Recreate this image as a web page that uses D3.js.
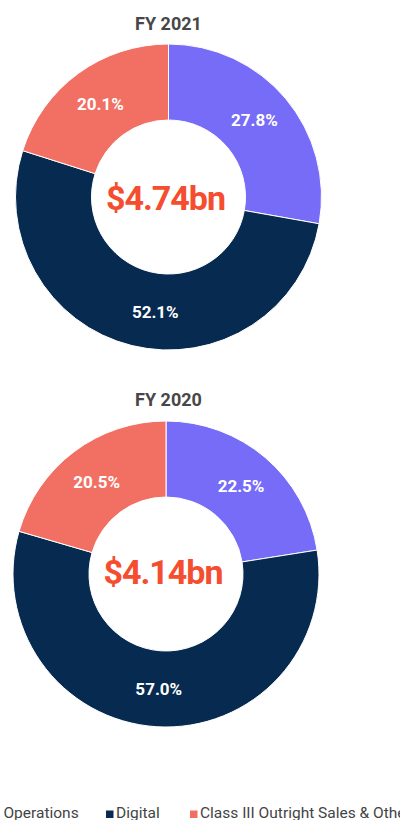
<!DOCTYPE html>
<html>
<head>
<meta charset="utf-8">
<script src="https://cdn.jsdelivr.net/npm/d3@7/dist/d3.min.js"></script>
<style>
html,body{margin:0;padding:0;background:#fff;overflow:hidden;}
svg{display:block;font-family:Roboto, "Noto Sans", sans-serif;}
</style>
</head>
<body>
<svg id="chart" width="400" height="820"></svg>
<script>
const categories = ["Gaming Operations", "Digital", "Class III Outright Sales & Other"];
const years = ["FY 2021", "FY 2020"];
const totals = ["$4.74bn", "$4.14bn"];
const values2021 = [27.8, 52.1, 20.1];
const values2020 = [22.5, 57.0, 20.5];
const colors = ["#776cf8", "#072b50", "#f26f63"];

const svg = d3.select("#chart");
// layout config (positions only)
const charts = [
  {title: years[0], total: totals[0], values: values2021, cx: 168.5, cy: 197, ty: 29.5, textBase: 12.5, nudge: [-2, -7.3, 0]},
  {title: years[1], total: totals[1], values: values2020, cx: 166, cy: 574, ty: 406, textBase: 9.5, nudge: [0, 0, 0]}
];
const outerR = 153, innerR = 77, labelR = 115.5;
const pie = d3.pie().sort(null).value(d => d);
const arc = d3.arc().innerRadius(innerR).outerRadius(outerR);

charts.forEach(c => {
  svg.append("text").attr("x", 168.5).attr("y", c.ty).attr("text-anchor", "middle")
    .attr("font-size", 18).attr("font-weight", "bold").attr("fill", "#474747").text(c.title);
  const g = svg.append("g").attr("transform", `translate(${c.cx},${c.cy})`);
  const arcs = pie(c.values);
  g.selectAll("path").data(arcs).join("path")
    .attr("d", arc).attr("fill", (d, i) => colors[i])
    .attr("stroke", "#fff").attr("stroke-width", 1);
  g.selectAll("text.lbl").data(arcs).join("text").attr("class", "lbl")
    .attr("transform", (d, i) => {
      const a = (d.startAngle + d.endAngle) / 2 + c.nudge[i] * Math.PI / 180;
      return `translate(${labelR * Math.sin(a)},${-labelR * Math.cos(a)})`;
    })
    .attr("text-anchor", "middle").attr("dy", "0.35em")
    .attr("font-size", 17).attr("font-weight", "bold").attr("fill", "#fff")
    .text(d => d.data.toFixed(1) + "%");
  g.append("text").attr("x", -3).attr("y", c.textBase).attr("text-anchor", "middle")
    .attr("font-size", 34).attr("font-weight", "bold").attr("letter-spacing", -1)
    .attr("fill", "#f44d2f")
    .text(c.total);
});

// legend
const legendX = [-64, 106, 190];
const lg = svg.append("g").attr("transform", "translate(0,818)");
categories.forEach((cat, i) => {
  const it = lg.append("g").attr("transform", `translate(${legendX[i]},0)`);
  it.append("rect").attr("x", 0).attr("y", -7.5).attr("width", 7.5).attr("height", 7.5).attr("fill", colors[i]);
  it.append("text").attr("x", 10).attr("y", 0).attr("font-size", 15.5).attr("fill", "#444").text(cat);
});
</script>
</body>
</html>
